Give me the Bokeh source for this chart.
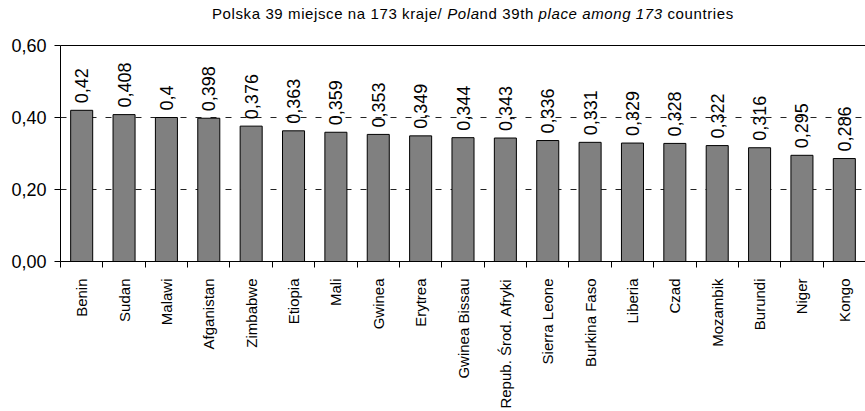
import math
from bokeh.plotting import figure
from bokeh.models import Range1d, FixedTicker, LinearAxis, ColumnDataSource, Div
from bokeh.layouts import column
from bokeh.core.properties import value
from bokeh.embed import file_html
from bokeh.resources import INLINE

countries = ["Benin", "Sudan", "Malawi", "Afganistan", "Zimbabwe", "Etiopia", "Mali",
             "Gwinea", "Erytrea", "Gwinea Bissau", "Repub. Środ. Afryki", "Sierra Leone",
             "Burkina Faso", "Liberia", "Czad", "Mozambik", "Burundi", "Niger", "Kongo"]
values = [0.42, 0.408, 0.4, 0.398, 0.376, 0.363, 0.359, 0.353, 0.349, 0.344, 0.343,
          0.336, 0.331, 0.329, 0.328, 0.322, 0.316, 0.295, 0.286]
value_labels = ["0,42", "0,408", "0,4", "0,398", "0,376", "0,363", "0,359", "0,353",
                "0,349", "0,344", "0,343", "0,336", "0,331", "0,329", "0,328", "0,322",
                "0,316", "0,295", "0,286"]
y_ticks = [0, 0.2, 0.4, 0.6]
y_tick_labels = ["0,00", "0,20", "0,40", "0,60"]
title_parts = [("Polska 39 miejsce na 173 kraje/ ", False), ("Pola", True),
               ("nd 39th ", False), ("place among 173", True), (" countries", False)]

FONT = "Liberation Sans"
n = len(countries)
centers = [i + 0.5 for i in range(n)]
bounds = list(range(n + 1))

src = ColumnDataSource(dict(x=centers, top=values, lab=value_labels))

p = figure(width=865, height=374, output_backend="svg", toolbar_location=None,
           x_range=Range1d(0, n), y_range=Range1d(0, 0.6),
           min_border_left=60, min_border_right=0, min_border_top=8, min_border_bottom=149)
p.outline_line_color = None
p.background_fill_color = "white"
p.border_fill_color = "white"

p.vbar(x="x", top="top", bottom=0, width=0.52, source=src,
       fill_color="#808080", line_color="black", line_width=1)

p.text(x="x", y="top", text="lab", source=src, angle=math.pi / 2,
       text_align="left", text_baseline="middle", x_offset=0, y_offset=-7,
       text_font=value(FONT), text_font_size="18px", text_color="black")

# x axis
xa = p.xaxis[0]
xa.ticker = FixedTicker(ticks=centers, minor_ticks=bounds)
xa.major_label_overrides = {c: name for c, name in zip(centers, countries)}
xa.major_tick_out = 0
xa.major_tick_in = 0
xa.minor_tick_out = 6
xa.minor_tick_in = 0
xa.minor_tick_line_color = "black"
xa.major_label_orientation = math.pi / 2
xa.major_label_standoff = 11
xa.major_label_text_font = FONT
xa.major_label_text_font_size = "15px"
xa.major_label_text_color = "black"
xa.axis_line_color = "black"

# y axis
ya = p.yaxis[0]
ya.ticker = FixedTicker(ticks=y_ticks)
ya.major_label_overrides = {t: s for t, s in zip(y_ticks, y_tick_labels)}
ya.major_tick_out = 6
ya.major_tick_in = 0
ya.minor_tick_out = 0
ya.minor_tick_in = 0
ya.major_tick_line_color = "black"
ya.major_label_standoff = 8
ya.major_label_text_font = FONT
ya.major_label_text_font_size = "18px"
ya.major_label_text_color = "black"
ya.axis_line_color = "black"

# top frame line
top_axis = LinearAxis(ticker=FixedTicker(ticks=[]), axis_line_color="black",
                      major_tick_out=0, major_tick_in=0, minor_tick_out=0, minor_tick_in=0,
                      major_label_text_font_size="0px")
p.add_layout(top_axis, "above")

p.xgrid.grid_line_color = None
p.ygrid.grid_line_color = "#222222"
p.ygrid.grid_line_dash = "6 9"
p.ygrid.grid_line_width = 1

# title with mixed italics
html = "".join(f"<i>{t}</i>" if it else t for t, it in title_parts)
title = Div(text=html, width=865, height=37,
            styles={"font-family": FONT, "font-size": "15px", "letter-spacing": "0.6px",
                    "color": "black", "padding-left": "212px", "padding-top": "5px",
                    "line-height": "18px", "white-space": "pre", "margin": "0"})

layout = column(title, p, spacing=0)
open("out.html", "w").write(file_html(layout, INLINE))
